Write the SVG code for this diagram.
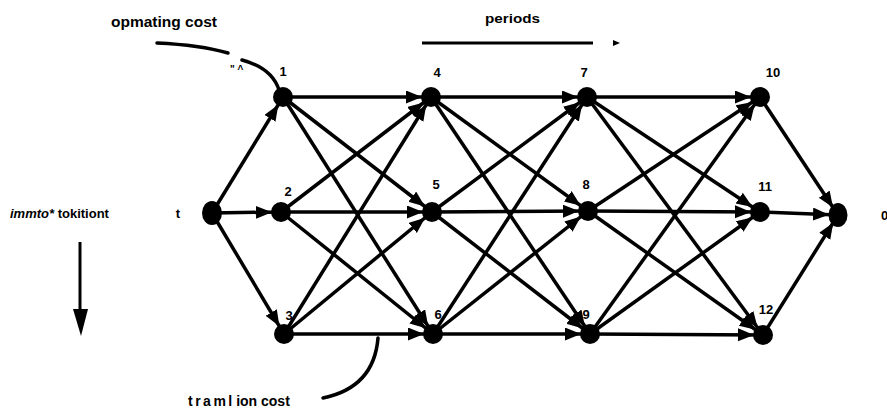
<svg xmlns="http://www.w3.org/2000/svg" width="887" height="410" viewBox="0 0 887 410">
<style>
.e{stroke:#000;stroke-width:3.5;fill:none;marker-end:url(#ah)}
.n{fill:#000}
.lb{font-family:"Liberation Sans",Arial,sans-serif;font-weight:bold;font-size:13px;fill:#000}
.tx{font-family:"Liberation Sans",Arial,sans-serif;font-weight:bold;fill:#000}
.cv{stroke:#000;stroke-width:3.5;fill:none;stroke-linecap:round}
</style>
<defs>
<marker id="ah" markerUnits="userSpaceOnUse" markerWidth="32" markerHeight="14" refX="25" refY="6.5" orient="auto">
<path d="M0,0 L16,6.5 L0,13 z" fill="#000"/>
</marker>
</defs>
<rect width="887" height="410" fill="#fff"/>
<g id="connectors">
<line class="e" x1="212" y1="213" x2="283" y2="97"/>
<line class="e" x1="212" y1="213" x2="281" y2="212"/>
<line class="e" x1="212" y1="213" x2="284" y2="334"/>
<line class="e" x1="283" y1="97" x2="431" y2="97"/>
<line class="e" x1="283" y1="97" x2="432" y2="212"/>
<line class="e" x1="283" y1="97" x2="433" y2="334"/>
<line class="e" x1="281" y1="212" x2="431" y2="97"/>
<line class="e" x1="281" y1="212" x2="432" y2="212"/>
<line class="e" x1="281" y1="212" x2="433" y2="334"/>
<line class="e" x1="284" y1="334" x2="431" y2="97"/>
<line class="e" x1="284" y1="334" x2="432" y2="212"/>
<line class="e" x1="284" y1="334" x2="433" y2="334"/>
<line class="e" x1="431" y1="97" x2="587" y2="97"/>
<line class="e" x1="431" y1="97" x2="588" y2="211"/>
<line class="e" x1="431" y1="97" x2="590" y2="334"/>
<line class="e" x1="432" y1="212" x2="587" y2="97"/>
<line class="e" x1="432" y1="212" x2="588" y2="211"/>
<line class="e" x1="432" y1="212" x2="590" y2="334"/>
<line class="e" x1="433" y1="334" x2="587" y2="97"/>
<line class="e" x1="433" y1="334" x2="588" y2="211"/>
<line class="e" x1="433" y1="334" x2="590" y2="334"/>
<line class="e" x1="587" y1="97" x2="760" y2="97"/>
<line class="e" x1="587" y1="97" x2="760" y2="212"/>
<line class="e" x1="587" y1="97" x2="763" y2="335"/>
<line class="e" x1="588" y1="211" x2="760" y2="97"/>
<line class="e" x1="588" y1="211" x2="760" y2="212"/>
<line class="e" x1="588" y1="211" x2="763" y2="335"/>
<line class="e" x1="590" y1="334" x2="760" y2="97"/>
<line class="e" x1="590" y1="334" x2="760" y2="212"/>
<line class="e" x1="590" y1="334" x2="763" y2="335"/>
<line class="e" x1="760" y1="97" x2="838" y2="215"/>
<line class="e" x1="760" y1="212" x2="838" y2="215"/>
<line class="e" x1="763" y1="335" x2="838" y2="215"/>
</g>
<g id="node-t"><ellipse class="n" cx="212" cy="213" rx="10" ry="12"/><text class="lb" x="178" y="218" text-anchor="middle">t</text></g>
<g id="node-1"><circle class="n" cx="283" cy="97" r="10"/><text class="lb" x="283" y="76" text-anchor="middle">1</text></g>
<g id="node-2"><circle class="n" cx="281" cy="212" r="10"/><text class="lb" x="288" y="196" text-anchor="middle">2</text></g>
<g id="node-3"><circle class="n" cx="284" cy="334" r="10"/><text class="lb" x="289" y="320" text-anchor="middle">3</text></g>
<g id="node-4"><circle class="n" cx="431" cy="97" r="10"/><text class="lb" x="437" y="77" text-anchor="middle">4</text></g>
<g id="node-5"><circle class="n" cx="432" cy="212" r="10"/><text class="lb" x="436" y="189" text-anchor="middle">5</text></g>
<g id="node-6"><circle class="n" cx="433" cy="334" r="10"/><text class="lb" x="438" y="319" text-anchor="middle">6</text></g>
<g id="node-7"><circle class="n" cx="587" cy="97" r="10"/><text class="lb" x="584" y="77" text-anchor="middle">7</text></g>
<g id="node-8"><circle class="n" cx="588" cy="211" r="10"/><text class="lb" x="586" y="189" text-anchor="middle">8</text></g>
<g id="node-9"><circle class="n" cx="590" cy="334" r="10"/><text class="lb" x="586" y="319" text-anchor="middle">9</text></g>
<g id="node-10"><circle class="n" cx="760" cy="97" r="10"/><text class="lb" x="773" y="77" text-anchor="middle">10</text></g>
<g id="node-11"><circle class="n" cx="760" cy="212" r="10"/><text class="lb" x="765" y="191" text-anchor="middle">11</text></g>
<g id="node-12"><circle class="n" cx="763" cy="335" r="10"/><text class="lb" x="766" y="314" text-anchor="middle">12</text></g>
<g id="node-sink"><ellipse class="n" cx="838" cy="215" rx="9.5" ry="12"/><text class="lb" x="881" y="220">0</text></g>
<g id="annotations">
<text class="tx" x="111" y="27" font-size="14" textLength="106" lengthAdjust="spacingAndGlyphs">opmating cost</text>
<path class="cv" d="M157,43 Q200,45 228,53"/>
<path class="cv" d="M242,60 Q272,68 279,90"/>
<text class="tx" x="230" y="73" font-size="10">" ^</text>
<text class="tx" x="485" y="23" font-size="12" textLength="55" lengthAdjust="spacingAndGlyphs">periods</text>
<line x1="422" y1="43" x2="593" y2="43" stroke="#000" stroke-width="3"/>
<path d="M613,40 L620,43 L613,46 z" fill="#000"/>
<text class="tx" x="10" y="218" font-size="13"><tspan font-style="italic">immto*</tspan> tokitiont</text>
<line x1="80" y1="242" x2="80" y2="312" stroke="#000" stroke-width="3"/>
<path d="M73,309 L88,309 L81,336 z" fill="#000"/>
<path class="cv" d="M323,398 C352,392 375,375 378,338"/>
<text class="tx" x="188" y="406" font-size="14"><tspan letter-spacing="2.5">tram</tspan>l ion cost</text>
</g>
</svg>
